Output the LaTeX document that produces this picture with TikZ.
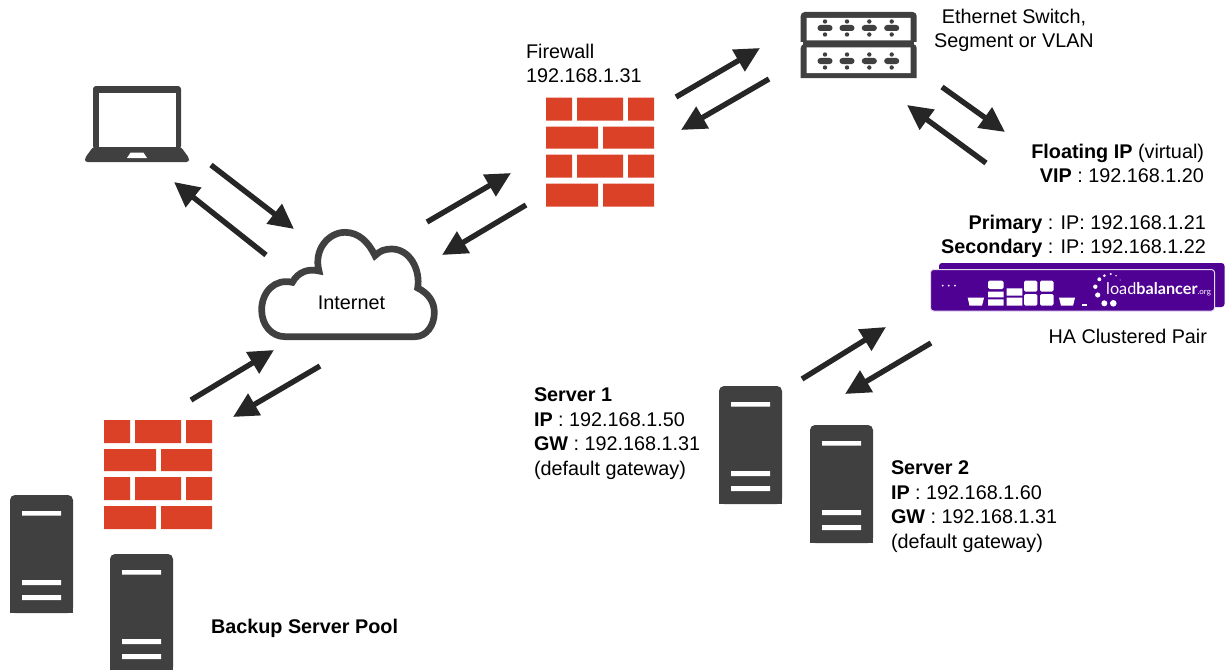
\documentclass[tikz,border=0pt]{standalone}
\usepackage{fontspec}
\setmainfont{Liberation Sans}
\newfontfamily\logofont{Lato}
\usetikzlibrary{arrows.meta}
\definecolor{icon}{HTML}{404040}
\definecolor{brick}{HTML}{DB4127}
\definecolor{lbpurple}{HTML}{4F0193}
\definecolor{arrowc}{HTML}{262626}
\tikzset{
  x=1pt,y=-1pt,
  flow/.style={draw=arrowc,line width=5.4pt,-{Triangle[length=25pt,width=24pt]}},
  lbl/.style={inner sep=0pt,outer sep=0pt,font=\fontsize{19.8}{24.4}\selectfont},
  pics/serverpic/.style={code={
    \fill[icon,rounded corners=5pt] (0,118) -- (0,0) -- (63,0) -- (63,118) -- cycle;
    \fill[icon] (0,110) rectangle (63,118);
    \fill[white] (12,16) rectangle (51,20.5) (12,85) rectangle (51,90) (12,100) rectangle (51,105);
  }},
  pics/wallpic/.style={code={
    \fill[brick]
      (0,0) rectangle (26,23) (31,0) rectangle (77,23) (82,0) rectangle (108,23)
      (0,29) rectangle (52,51) (57,29) rectangle (108,51)
      (0,57) rectangle (26,80) (31,57) rectangle (77,80) (82,57) rectangle (108,80)
      (0,86) rectangle (52,109) (57,86) rectangle (108,109);
  }},
  pics/portrow/.style={code={
    \foreach \px in {0,22,44.3,66.7}{
      \fill[icon,rounded corners=2.9pt] (\px-7.5,-3) rectangle (\px+7.5,3);
      \fill[icon] (\px,-6.5) circle (2.2) (\px,6.5) circle (2.2);
    }
  }}
}
\begin{document}
\begin{tikzpicture}
\useasboundingbox (0,0) rectangle (1225,669);
% laptop
\fill[icon,rounded corners=3pt]
  (93,149) -- (93,86) -- (181,86) -- (181,149) -- cycle;
\fill[white] (98.5,92.5) rectangle (176,147);
\fill[icon,rounded corners=2.5pt]
  (93,147) -- (181,147) -- (189,158) -- (189,162) -- (85,162) -- (85,158) -- cycle;
\fill[white] (130.5,152.7) -- (143.5,152.7) -- (147,158) -- (127,158) -- cycle;
% switch
\fill[icon] (800.7,42) [rounded corners=4pt] -- (800.7,12) -- (916.7,12) [sharp corners] -- (916.7,42) -- cycle;
\fill[icon] (800.7,78) [rounded corners=4pt] -- (800.7,44) -- (916.7,44) [sharp corners] -- (916.7,78) -- cycle;
\fill[icon] (803,40) rectangle (914.4,48);
\fill[white] (806.7,18) rectangle (910.7,40.5) (806.7,47.5) rectangle (910.7,73);
\pic at (825,28) {portrow};
\pic at (825,61) {portrow};
% firewalls
\pic at (546,97.5) {wallpic};
\pic at (104,420) {wallpic};
% servers
\pic at (719,386) {serverpic};
\pic at (810,425) {serverpic};
\pic at (10,495) {serverpic};
\pic at (110,554) {serverpic};
% cloud
\begin{scope}[shift={(250,220)},scale=1/3]
\draw[icon,line width=6.7pt,line join=miter]
  (105,350) -- (495,350)
  .. controls (530,350) and (553,315) .. (553,278)
  .. controls (553,245) and (535,220) .. (503,204)
  .. controls (512,150) and (480,87) .. (425,87)
  .. controls (405,87) and (390,92) .. (375,107)
  .. controls (355,65) and (325,37) .. (285,37)
  .. controls (235,37) and (190,90) .. (207,153)
  .. controls (175,145) and (145,155) .. (127,187)
  .. controls (75,175) and (35,215) .. (35,270)
  .. controls (35,315) and (65,350) .. (105,350) -- cycle;
\end{scope}
% appliances
\fill[lbpurple,rounded corners=3pt] (939,263) rectangle (1224.5,307);
\fill[lbpurple,draw=white!85!lbpurple,line width=1pt,rounded corners=3pt] (930.5,269.5) rectangle (1214.5,311);
\begin{scope}[white]
\fill (942.7,285.7) circle (1) (948.7,285.7) circle (1) (955,285.7) circle (1);
\fill (967.7,297.7) -- (984,297.7) -- (982,305.7) -- (969.5,305.7) -- cycle;
\fill (1059,297.7) -- (1075,297.7) -- (1073,305.7) -- (1061,305.7) -- cycle;
\fill[rounded corners=1.5pt] (988,289) -- (988,280.7) -- (1003.5,280.7) -- (1003.5,289) -- cycle;
\fill (988,291.7) rectangle (1003.5,297.3) (988,299.3) rectangle (1003.5,305.7);
\fill (1006.7,288.3) rectangle (1022.3,295.7) (1006.7,297.7) rectangle (1022.3,305.7);
\fill[rounded corners=1.5pt] (1024,291.7) -- (1024,280.7) -- (1037.3,280.7) -- (1037.3,291.7) -- cycle;
\fill[rounded corners=1.5pt] (1024,305.7) -- (1024,294) -- (1037.3,294) -- (1037.3,305.7) -- cycle;
\fill[rounded corners=1.5pt] (1040,291.7) -- (1040,280.7) -- (1053.5,280.7) -- (1053.5,291.7) -- cycle;
\fill[rounded corners=1.5pt] (1040,305.7) -- (1040,294) -- (1053.5,294) -- (1053.5,305.7) -- cycle;
\fill (1081.7,304.4) rectangle (1086.5,306);
\fill (1104.3,303.3) circle (3) (1113.3,303.3) circle (3.3) (1097.7,295) circle (2.6)
      (1095.3,286.7) circle (2.2) (1099.3,279.3) circle (2) (1104.3,275.7) circle (1.5)
      (1110.7,274) circle (1.2) (1116,275.7) circle (.8) (1120,280) circle (.5);
\end{scope}
\node[inner sep=0pt,anchor=base west,text=white] (logotext) at (1106,294)
  {\logofont\fontsize{16.2}{18}\selectfont load\textbf{balancer}\fontsize{8}{9}\selectfont .org};
% labels
\node[lbl,align=center,anchor=north] (switchlbl) at (1014,9) {Ethernet Switch,\\Segment or VLAN};
\node[lbl,align=left,anchor=north west] (fwlbl) at (526,44) {Firewall\\192.168.1.31};
\node[lbl,align=right,anchor=north east] (viplbl) at (1204,144) {\textbf{Floating IP} (virtual)\\\textbf{VIP} : 192.168.1.20};
\node[lbl,align=right,anchor=north east] (pairlbl) at (1206,215) {\textbf{Primary} : IP: 192.168.1.21\\\textbf{Secondary} : IP: 192.168.1.22};
\node[lbl,anchor=east] (halbl) at (1207,336) {HA Clustered Pair};
\node[lbl,align=left,anchor=north west] (s1lbl) at (534,388) {\textbf{Server 1}\\\textbf{IP} : 192.168.1.50\\\textbf{GW} : 192.168.1.31\\(default gateway)};
\node[lbl,align=left,anchor=north west] (s2lbl) at (891,461) {\textbf{Server 2}\\\textbf{IP} : 192.168.1.60\\\textbf{GW} : 192.168.1.31\\(default gateway)};
\node[lbl,anchor=west] (poollbl) at (211,628) {\textbf{Backup Server Pool}};
\node[lbl] (netlbl) at (351.5,302.5) {Internet};
% connector ends
\coordinate (lapA) at (211,165); \coordinate (netA) at (294,229);
\coordinate (netB) at (266,255); \coordinate (lapB) at (174,182);
\coordinate (netC) at (427,222); \coordinate (fwC) at (511,173);
\coordinate (fwD) at (526,205); \coordinate (netD) at (442,255);
\coordinate (fwE) at (676,97); \coordinate (swE) at (760,48);
\coordinate (swF) at (769,79); \coordinate (fwF) at (681,130);
\coordinate (swG) at (942,87); \coordinate (vipG) at (1005,132);
\coordinate (vipH) at (986,163); \coordinate (swH) at (907,105);
\coordinate (bkI) at (191,400); \coordinate (netI) at (274,350);
\coordinate (netJ) at (320,366); \coordinate (bkJ) at (233,417);
\coordinate (srvK) at (802,379); \coordinate (lbK) at (886,327);
\coordinate (lbL) at (931,343); \coordinate (srvL) at (845,394);
\foreach \a/\b in {lapA/netA,netB/lapB,netC/fwC,fwD/netD,fwE/swE,swF/fwF,swG/vipG,vipH/swH,bkI/netI,netJ/bkJ,srvK/lbK,lbL/srvL}
  \draw[flow] (\a) -- (\b);
\end{tikzpicture}
\end{document}
